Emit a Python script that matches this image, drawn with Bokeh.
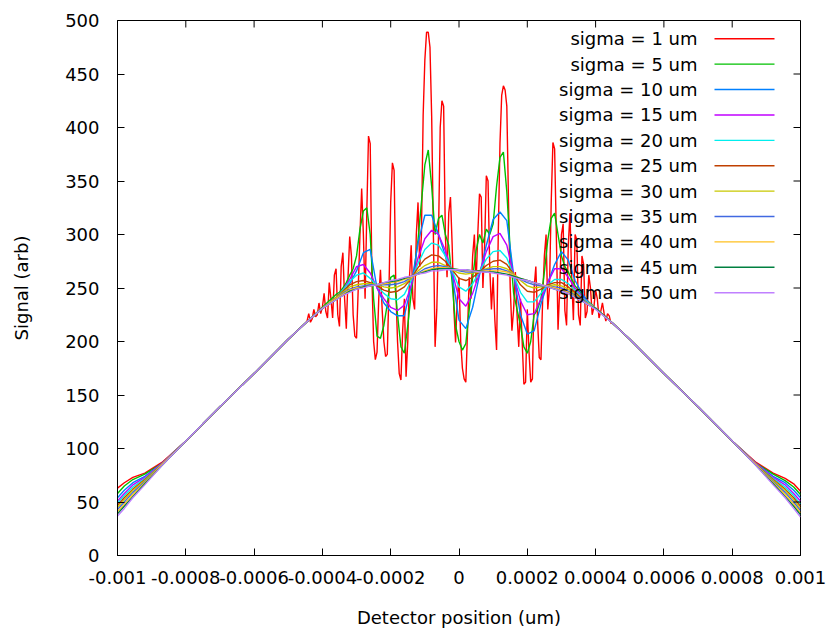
import numpy as np
from bokeh.plotting import figure
from bokeh.models import Range1d, FixedTicker, ColumnDataSource
from bokeh.embed import file_html
from bokeh.resources import INLINE
from bokeh.core.properties import value

# ---------------- data (x arrays in units of 1e-4) ----------------
X_UNIT = 1e-4
LABELS = ["sigma = 1 um", "sigma = 5 um", "sigma = 10 um", "sigma = 15 um",
          "sigma = 20 um", "sigma = 25 um", "sigma = 30 um", "sigma = 35 um",
          "sigma = 40 um", "sigma = 45 um", "sigma = 50 um"]
COLORS = ["#ff0000", "#00c000", "#0080ff", "#c000ff", "#00eeee", "#c04000",
          "#c8c800", "#4169e1", "#ffc020", "#008040", "#c080ff"]

X_TICKS = [-0.001, -0.0008, -0.0006, -0.0004, -0.0002, 0.0, 0.0002, 0.0004, 0.0006, 0.0008, 0.001]
X_TICK_LABELS = ["-0.001", "-0.0008", "-0.0006", "-0.0004", "-0.0002", "0",
                 "0.0002", "0.0004", "0.0006", "0.0008", "0.001"]
Y_TICKS = [0, 50, 100, 150, 200, 250, 300, 350, 400, 450, 500]

# shared ramps
EDGE_X_L = [-10.0, -9.8, -9.55, -9.2, -8.7]
EDGE_X_R = [8.7, 9.2, 9.55, 9.8, 10.0]
RAMP_X_L = [-8.0, -7.0, -6.0, -5.0, -4.5]
RAMP_Y_L = [107, 139, 170, 202, 217]
RAMP_X_R = [4.5, 5.0, 6.0, 7.0, 8.0]
RAMP_Y_R = [217, 202, 170, 139, 107]

# edges per sigma
S1_EDGE_L = [63, 68, 73, 77, 87];  S1_EDGE_R = [87, 77, 72, 67, 60]
S5_EDGE_L = [58, 65, 71, 76, 86];  S5_EDGE_R = [86, 76, 70, 64, 57]
S10_EDGE_L = [54, 61, 68, 74, 86]; S10_EDGE_R = [86, 74, 68, 61, 54]
S15_EDGE_L = [51, 58, 66, 73, 86]; S15_EDGE_R = [86, 73, 66, 58, 51]
S20_EDGE_L = [49, 56, 64, 72, 85]; S20_EDGE_R = [85, 72, 64, 56, 48]
S25_EDGE_L = [47, 54, 62, 71, 85]; S25_EDGE_R = [85, 71, 62, 54, 46]
S30_EDGE_L = [45, 52, 61, 70, 85]; S30_EDGE_R = [85, 70, 61, 52, 44]
S35_EDGE_L = [43, 50, 59, 69, 85]; S35_EDGE_R = [85, 69, 59, 50, 42]
S40_EDGE_L = [41, 48, 57, 68, 85]; S40_EDGE_R = [85, 68, 57, 48, 40]
S45_EDGE_L = [39, 46, 55, 67, 84]; S45_EDGE_R = [84, 67, 55, 46, 38]
S50_EDGE_L = [37, 44, 54, 66, 84]; S50_EDGE_R = [84, 66, 54, 44, 36]

# sigma = 1 um, centre samples from -4.5 to 4.5 every 0.05
S1_CENTER = [217, 219, 226, 218, 221, 230, 223, 225, 236, 226, 232,
             245, 228, 222, 255, 240, 222, 262, 268, 225, 214,
             270, 283, 240, 212, 260, 298, 280, 225, 205, 203,
             250, 300, 343, 300, 240, 320, 392, 385, 260, 200, 183, 190,
             240, 267, 230, 200, 186, 188, 250, 330, 367, 360, 250, 200,
             170, 164, 210, 240, 167, 200,
             260, 290, 240, 230, 300, 330, 270, 300, 411, 463, 489, 489,
             475, 410, 300,
             195, 230, 300, 400, 425, 420, 300, 260, 320, 335, 290, 230,
             199, 240, 260, 200, 175, 165, 162, 210, 260, 240, 280, 300,
             255, 300, 338, 335, 250, 290, 355, 350, 270,
             230, 260, 220, 192, 300, 385, 430, 439, 435, 420, 330, 250, 210,
             230, 265, 225, 195, 240, 200, 160, 162, 230, 190, 162, 165,
             250, 270, 220, 185, 183, 240, 280,
             300, 230, 250, 330, 386, 380, 300, 211, 250, 300,
             310, 229, 215, 290, 320, 260, 220, 300, 295, 225,
             215, 280, 272, 222, 228, 262, 250, 225, 232, 248,
             240, 222, 228, 236, 226, 219, 226, 224, 217, 217]
S1_CENTER_X = [round(-4.5 + 0.05 * i, 3) for i in range(len(S1_CENTER))]

# sigma = 5 um, centre samples from -4.0 to 4.0 every 0.1
S5_CENTER = [232, 235, 238, 241, 244, 246, 250, 255, 262, 268,
             280, 305, 322, 325, 300, 240, 205, 203, 215, 235,
             260, 262, 225, 195, 189, 215, 245, 270, 295, 330,
             365, 379, 345, 300, 315, 318, 300, 290, 255, 215,
             200, 192, 198, 230, 260, 285, 300, 292, 305, 300,
             310, 345, 372, 377, 340, 285, 245, 230, 215, 195,
             189, 200, 225, 230, 240, 265, 295, 315, 320, 300,
             280, 270, 265, 258, 252, 248, 244, 240, 237, 234,
             231]
S5_CENTER_X = [round(-4.0 + 0.1 * i, 2) for i in range(len(S5_CENTER))]

# smoother curves, centre samples from -4.0 to 4.0 every 0.2
SMOOTH_X = [round(-4.0 + 0.2 * i, 2) for i in range(41)]
S10_CENTER = [231, 236, 241, 246, 254, 266, 283, 286, 250, 236,
              228, 224, 224, 252, 292, 318, 318, 300, 280, 262,
              220, 212, 232, 262, 290, 314, 321, 313, 262, 225,
              207, 210, 235, 255, 272, 284, 276, 257, 245, 236, 231]
S15_CENTER = [231, 236, 241, 248, 258, 270, 272, 264, 250, 240,
              232, 229, 234, 252, 278, 296, 304, 300, 285, 265,
              240, 233, 245, 264, 284, 298, 301, 290, 262, 238,
              225, 226, 240, 255, 268, 268, 260, 250, 242, 236, 231]
S20_CENTER = [231, 236, 241, 248, 256, 262, 264, 259, 252, 245,
              240, 239, 244, 257, 273, 286, 292, 290, 280, 266,
              251, 247, 254, 265, 277, 284, 285, 278, 262, 246,
              237, 237, 245, 253, 258, 258, 254, 248, 241, 236, 231]
S25_CENTER = [231, 236, 241, 247, 253, 256, 257, 255, 252, 248,
              246, 247, 251, 259, 269, 277, 281, 280, 275, 267,
              259, 257, 260, 265, 271, 275, 276, 272, 263, 253,
              247, 246, 249, 253, 255, 255, 251, 246, 240, 235, 231]
S30_CENTER = [231, 236, 241, 246, 251, 253, 254, 254, 253, 251,
              250, 251, 254, 259, 266, 271, 274, 274, 271, 267,
              264, 263, 264, 265, 268, 270, 270, 268, 263, 257,
              252, 250, 251, 252, 253, 252, 249, 244, 239, 235, 231]
S35_CENTER = [231, 236, 240, 245, 249, 251, 252, 253, 253, 253,
              253, 254, 256, 260, 264, 268, 270, 271, 270, 268,
              266, 265, 265, 266, 267, 268, 268, 266, 262, 258,
              255, 253, 252, 252, 251, 250, 247, 243, 239, 235, 231]
S40_CENTER = [231, 236, 240, 244, 248, 250, 251, 252, 253, 254,
              255, 256, 258, 260, 263, 266, 268, 269, 269, 268,
              267, 266, 266, 266, 266, 266, 266, 265, 262, 259,
              257, 255, 253, 252, 250, 248, 246, 242, 238, 235, 231]
S45_CENTER = [231, 235, 239, 243, 247, 249, 251, 252, 253, 255,
              256, 257, 259, 261, 263, 265, 267, 268, 268, 268,
              267, 267, 266, 266, 265, 265, 264, 263, 261, 259,
              257, 255, 253, 251, 249, 247, 245, 241, 238, 234, 231]
S50_CENTER = [231, 235, 239, 243, 246, 249, 250, 252, 253, 255,
              257, 258, 260, 261, 263, 264, 266, 266, 267, 267,
              267, 267, 266, 265, 265, 264, 263, 262, 260, 258,
              257, 255, 253, 251, 249, 247, 245, 241, 238, 234, 230]

SERIES = [
    (S1_EDGE_L, S1_CENTER_X, S1_CENTER, S1_EDGE_R),
    (S5_EDGE_L, S5_CENTER_X, S5_CENTER, S5_EDGE_R),
    (S10_EDGE_L, SMOOTH_X, S10_CENTER, S10_EDGE_R),
    (S15_EDGE_L, SMOOTH_X, S15_CENTER, S15_EDGE_R),
    (S20_EDGE_L, SMOOTH_X, S20_CENTER, S20_EDGE_R),
    (S25_EDGE_L, SMOOTH_X, S25_CENTER, S25_EDGE_R),
    (S30_EDGE_L, SMOOTH_X, S30_CENTER, S30_EDGE_R),
    (S35_EDGE_L, SMOOTH_X, S35_CENTER, S35_EDGE_R),
    (S40_EDGE_L, SMOOTH_X, S40_CENTER, S40_EDGE_R),
    (S45_EDGE_L, SMOOTH_X, S45_CENTER, S45_EDGE_R),
    (S50_EDGE_L, SMOOTH_X, S50_CENTER, S50_EDGE_R),
]

# ---------------- layout ----------------
W, H = 828, 630
FL, FR, FT, FB = 117, 800, 20, 556   # frame edges in px
FONT = "DejaVu Sans"
FS = "18px"
TICK_PX = 7
LW = 1.4

p = figure(width=W, height=H, output_backend="svg", toolbar_location=None,
           x_range=Range1d(-0.001, 0.001), y_range=Range1d(0, 500),
           min_border_left=FL, min_border_right=W - FR,
           min_border_top=FT, min_border_bottom=H - FB,
           x_axis_label="Detector position (um)", y_axis_label="Signal (arb)")
p.background_fill_color = "white"
p.border_fill_color = "white"
p.outline_line_color = "black"
p.outline_line_width = 1
p.grid.visible = False

for i, (el, cx, cy, er) in enumerate(SERIES):
    xs = np.array(EDGE_X_L + RAMP_X_L + cx + RAMP_X_R + EDGE_X_R) * X_UNIT
    ys = np.array(el + RAMP_Y_L + cy + RAMP_Y_R + er, dtype=float)
    p.line(xs, ys, line_color=COLORS[i], line_width=LW)

overrides = {t: lab for t, lab in zip(X_TICKS, X_TICK_LABELS)}

def style_axis(ax):
    ax.axis_line_color = "black"
    ax.major_tick_line_color = "black"
    ax.major_tick_in = TICK_PX
    ax.major_tick_out = 0
    ax.minor_tick_line_color = None
    ax.major_label_text_font = FONT
    ax.major_label_text_font_size = FS
    ax.major_label_text_color = "black"
    ax.axis_label_text_font = FONT
    ax.axis_label_text_font_size = FS
    ax.axis_label_text_font_style = "normal"
    ax.axis_label_text_color = "black"

xa = p.xaxis[0]
xa.ticker = FixedTicker(ticks=X_TICKS)
xa.major_label_overrides = overrides
style_axis(xa)
xa.major_label_standoff = 15
xa.axis_label_standoff = 20

ya = p.yaxis[0]
ya.ticker = FixedTicker(ticks=Y_TICKS)
style_axis(ya)
ya.major_label_standoff = 18
ya.axis_label_standoff = 30

# mirrored inward ticks on top and right borders (gnuplot style)
dy_tick = TICK_PX * 500 / (FB - FT)
dx_tick = TICK_PX * 0.002 / (FR - FL)
p.segment(x0=X_TICKS, y0=[500] * len(X_TICKS), x1=X_TICKS,
          y1=[500 - dy_tick] * len(X_TICKS), line_color="black", line_width=1)
p.segment(x0=[0.001] * len(Y_TICKS), y0=Y_TICKS, x1=[0.001 - dx_tick] * len(Y_TICKS),
          y1=Y_TICKS, line_color="black", line_width=1)

# ---------------- legend (manual, gnuplot style) ----------------
def px_to_x(px):
    return -0.001 + (px - FL) / (FR - FL) * 0.002

def py_to_y(py):
    return (FB - py) / (FB - FT) * 500

row_py = [38.3 + 25.44 * i for i in range(len(LABELS))]
leg = ColumnDataSource(dict(
    tx=[px_to_x(697)] * len(LABELS),
    x0=[px_to_x(714)] * len(LABELS),
    x1=[px_to_x(774)] * len(LABELS),
    y=[py_to_y(v) for v in row_py],
    text=LABELS, color=COLORS))
p.text(x="tx", y="y", text="text", source=leg, text_font=value(FONT),
       text_font_size=value(FS), text_align="right", text_baseline="middle",
       text_color="black")
p.segment(x0="x0", y0="y", x1="x1", y1="y", line_color="color",
          line_width=LW, source=leg)

open("out.html", "w").write(file_html(p, INLINE))
